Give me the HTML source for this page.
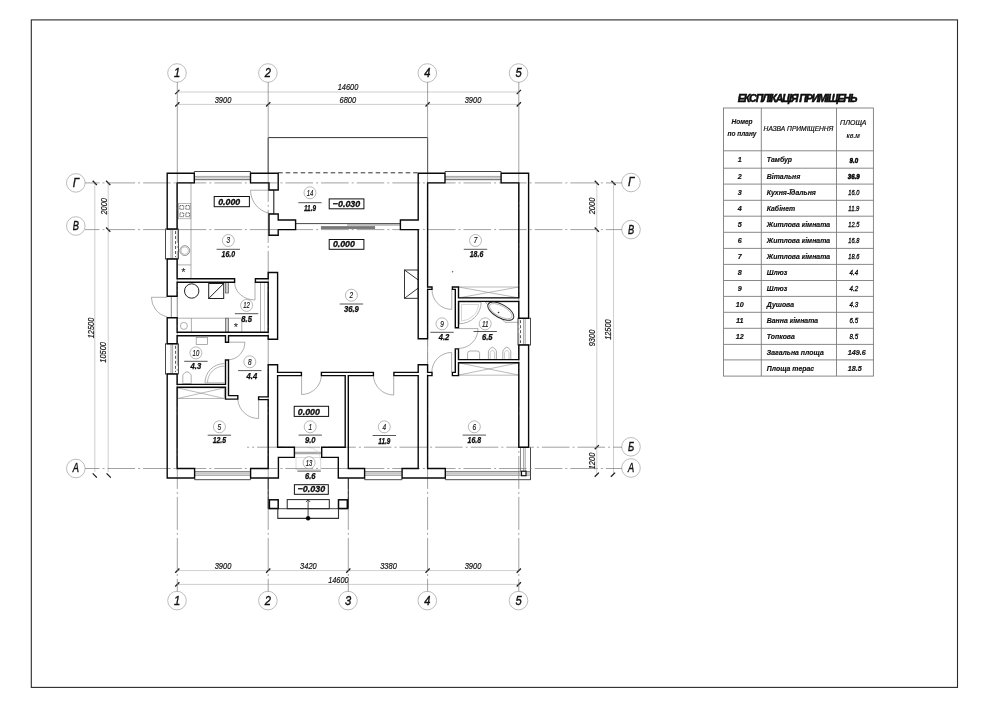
<!DOCTYPE html><html><head><meta charset="utf-8"><title>План</title>
<style>html,body{margin:0;padding:0;background:#fff}svg{display:block;will-change:transform}text{font-family:"Liberation Sans",sans-serif;fill:#111}.g{font-style:italic}.b{font-style:italic;font-weight:bold}</style></head><body>
<svg width="1000" height="707" viewBox="0 0 1000 707">
<rect x="0" y="0" width="1000" height="707" fill="#fff"/>
<rect x="31.3" y="19.9" width="926.2" height="667.5" fill="none" stroke="#2a2a2a" stroke-width="1.1"/>
<line x1="177.3" y1="92.0" x2="518.8" y2="92.0" stroke="#c2c2c2" stroke-width="0.8" />
<line x1="177.3" y1="104.4" x2="518.8" y2="104.4" stroke="#c2c2c2" stroke-width="0.8" />
<line x1="177.3" y1="570.6" x2="518.8" y2="570.6" stroke="#c2c2c2" stroke-width="0.8" />
<line x1="177.3" y1="584.4" x2="518.8" y2="584.4" stroke="#c2c2c2" stroke-width="0.8" />
<line x1="94.8" y1="182.9" x2="94.8" y2="472.0" stroke="#c2c2c2" stroke-width="0.8" />
<line x1="108.2" y1="182.9" x2="108.2" y2="472.0" stroke="#c2c2c2" stroke-width="0.8" />
<line x1="596.8" y1="182.9" x2="596.8" y2="474.7" stroke="#c2c2c2" stroke-width="0.8" />
<line x1="613.5" y1="182.9" x2="613.5" y2="474.7" stroke="#c2c2c2" stroke-width="0.8" />
<line x1="175.2" y1="94.1" x2="179.4" y2="89.9" stroke="#1a1a1a" stroke-width="1.25" />
<line x1="516.7" y1="94.1" x2="520.9" y2="89.9" stroke="#1a1a1a" stroke-width="1.25" />
<line x1="175.2" y1="106.5" x2="179.4" y2="102.3" stroke="#1a1a1a" stroke-width="1.25" />
<line x1="266.1" y1="106.5" x2="270.3" y2="102.3" stroke="#1a1a1a" stroke-width="1.25" />
<line x1="425.5" y1="106.5" x2="429.7" y2="102.3" stroke="#1a1a1a" stroke-width="1.25" />
<line x1="516.7" y1="106.5" x2="520.9" y2="102.3" stroke="#1a1a1a" stroke-width="1.25" />
<line x1="175.2" y1="572.7" x2="179.4" y2="568.5" stroke="#1a1a1a" stroke-width="1.25" />
<line x1="266.1" y1="572.7" x2="270.3" y2="568.5" stroke="#1a1a1a" stroke-width="1.25" />
<line x1="346.2" y1="572.7" x2="350.4" y2="568.5" stroke="#1a1a1a" stroke-width="1.25" />
<line x1="425.5" y1="572.7" x2="429.7" y2="568.5" stroke="#1a1a1a" stroke-width="1.25" />
<line x1="516.7" y1="572.7" x2="520.9" y2="568.5" stroke="#1a1a1a" stroke-width="1.25" />
<line x1="175.2" y1="586.5" x2="179.4" y2="582.3" stroke="#1a1a1a" stroke-width="1.25" />
<line x1="516.7" y1="586.5" x2="520.9" y2="582.3" stroke="#1a1a1a" stroke-width="1.25" />
<line x1="92.7" y1="180.8" x2="96.9" y2="185.0" stroke="#1a1a1a" stroke-width="1.25" />
<line x1="106.1" y1="180.8" x2="110.3" y2="185.0" stroke="#1a1a1a" stroke-width="1.25" />
<line x1="106.1" y1="227.5" x2="110.3" y2="231.7" stroke="#1a1a1a" stroke-width="1.25" />
<line x1="92.7" y1="473.4" x2="96.9" y2="477.6" stroke="#1a1a1a" stroke-width="1.25" />
<line x1="106.6" y1="473.4" x2="110.8" y2="477.6" stroke="#1a1a1a" stroke-width="1.25" />
<line x1="594.7" y1="180.8" x2="598.9" y2="185.0" stroke="#1a1a1a" stroke-width="1.25" />
<line x1="611.4" y1="180.8" x2="615.6" y2="185.0" stroke="#1a1a1a" stroke-width="1.25" />
<line x1="594.7" y1="227.5" x2="598.9" y2="231.7" stroke="#1a1a1a" stroke-width="1.25" />
<line x1="594.7" y1="449.3" x2="598.9" y2="445.1" stroke="#1a1a1a" stroke-width="1.25" />
<line x1="594.7" y1="476.8" x2="598.9" y2="472.6" stroke="#1a1a1a" stroke-width="1.25" />
<line x1="610.9" y1="476.8" x2="615.1" y2="472.6" stroke="#1a1a1a" stroke-width="1.25" />
<circle cx="177.0" cy="73.0" r="9.3" fill="#fff" stroke="#a0a0a0" stroke-width="0.7"/>
<text x="177.0" y="76.9" font-size="13" class="g" text-anchor="middle" textLength="6.2" lengthAdjust="spacingAndGlyphs" stroke="#111" stroke-width="0.4">1</text>
<circle cx="267.9" cy="73.0" r="9.3" fill="#fff" stroke="#a0a0a0" stroke-width="0.7"/>
<text x="267.9" y="76.9" font-size="13" class="g" text-anchor="middle" textLength="6.2" lengthAdjust="spacingAndGlyphs" stroke="#111" stroke-width="0.4">2</text>
<circle cx="427.3" cy="73.0" r="9.3" fill="#fff" stroke="#a0a0a0" stroke-width="0.7"/>
<text x="427.3" y="76.9" font-size="13" class="g" text-anchor="middle" textLength="6.2" lengthAdjust="spacingAndGlyphs" stroke="#111" stroke-width="0.4">4</text>
<circle cx="518.5" cy="73.0" r="9.3" fill="#fff" stroke="#a0a0a0" stroke-width="0.7"/>
<text x="518.5" y="76.9" font-size="13" class="g" text-anchor="middle" textLength="6.2" lengthAdjust="spacingAndGlyphs" stroke="#111" stroke-width="0.4">5</text>
<circle cx="177.0" cy="600.6" r="9.3" fill="#fff" stroke="#a0a0a0" stroke-width="0.7"/>
<text x="177.0" y="604.5" font-size="13" class="g" text-anchor="middle" textLength="6.2" lengthAdjust="spacingAndGlyphs" stroke="#111" stroke-width="0.4">1</text>
<circle cx="267.9" cy="600.6" r="9.3" fill="#fff" stroke="#a0a0a0" stroke-width="0.7"/>
<text x="267.9" y="604.5" font-size="13" class="g" text-anchor="middle" textLength="6.2" lengthAdjust="spacingAndGlyphs" stroke="#111" stroke-width="0.4">2</text>
<circle cx="348.0" cy="600.6" r="9.3" fill="#fff" stroke="#a0a0a0" stroke-width="0.7"/>
<text x="348.0" y="604.5" font-size="13" class="g" text-anchor="middle" textLength="6.2" lengthAdjust="spacingAndGlyphs" stroke="#111" stroke-width="0.4">3</text>
<circle cx="427.3" cy="600.6" r="9.3" fill="#fff" stroke="#a0a0a0" stroke-width="0.7"/>
<text x="427.3" y="604.5" font-size="13" class="g" text-anchor="middle" textLength="6.2" lengthAdjust="spacingAndGlyphs" stroke="#111" stroke-width="0.4">4</text>
<circle cx="518.5" cy="600.6" r="9.3" fill="#fff" stroke="#a0a0a0" stroke-width="0.7"/>
<text x="518.5" y="604.5" font-size="13" class="g" text-anchor="middle" textLength="6.2" lengthAdjust="spacingAndGlyphs" stroke="#111" stroke-width="0.4">5</text>
<circle cx="75.8" cy="182.9" r="9.3" fill="#fff" stroke="#a0a0a0" stroke-width="0.7"/>
<text x="75.8" y="186.8" font-size="13" class="g" text-anchor="middle" textLength="6.2" lengthAdjust="spacingAndGlyphs" stroke="#111" stroke-width="0.4">Г</text>
<circle cx="75.8" cy="226.0" r="9.3" fill="#fff" stroke="#a0a0a0" stroke-width="0.7"/>
<text x="75.8" y="229.9" font-size="13" class="g" text-anchor="middle" textLength="6.2" lengthAdjust="spacingAndGlyphs" stroke="#111" stroke-width="0.4">В</text>
<circle cx="75.8" cy="468.5" r="9.3" fill="#fff" stroke="#a0a0a0" stroke-width="0.7"/>
<text x="75.8" y="472.4" font-size="13" class="g" text-anchor="middle" textLength="6.2" lengthAdjust="spacingAndGlyphs" stroke="#111" stroke-width="0.4">А</text>
<circle cx="631.0" cy="182.5" r="9.3" fill="#fff" stroke="#a0a0a0" stroke-width="0.7"/>
<text x="631.0" y="186.4" font-size="13" class="g" text-anchor="middle" textLength="6.2" lengthAdjust="spacingAndGlyphs" stroke="#111" stroke-width="0.4">Г</text>
<circle cx="631.0" cy="229.6" r="9.3" fill="#fff" stroke="#a0a0a0" stroke-width="0.7"/>
<text x="631.0" y="233.5" font-size="13" class="g" text-anchor="middle" textLength="6.2" lengthAdjust="spacingAndGlyphs" stroke="#111" stroke-width="0.4">В</text>
<circle cx="631.0" cy="446.8" r="9.3" fill="#fff" stroke="#a0a0a0" stroke-width="0.7"/>
<text x="631.0" y="450.7" font-size="13" class="g" text-anchor="middle" textLength="6.2" lengthAdjust="spacingAndGlyphs" stroke="#111" stroke-width="0.4">Б</text>
<circle cx="631.0" cy="468.0" r="9.3" fill="#fff" stroke="#a0a0a0" stroke-width="0.7"/>
<text x="631.0" y="471.9" font-size="13" class="g" text-anchor="middle" textLength="6.2" lengthAdjust="spacingAndGlyphs" stroke="#111" stroke-width="0.4">А</text>
<text x="223.0" y="103.0" font-size="8.3" class="g" text-anchor="middle" stroke="#111" stroke-width="0.18" textLength="16.6" lengthAdjust="spacingAndGlyphs">3900</text>
<text x="347.8" y="103.0" font-size="8.3" class="g" text-anchor="middle" stroke="#111" stroke-width="0.18" textLength="16.6" lengthAdjust="spacingAndGlyphs">6800</text>
<text x="473.0" y="103.0" font-size="8.3" class="g" text-anchor="middle" stroke="#111" stroke-width="0.18" textLength="16.6" lengthAdjust="spacingAndGlyphs">3900</text>
<text x="348.0" y="90.0" font-size="8.3" class="g" text-anchor="middle" stroke="#111" stroke-width="0.18" textLength="20.5" lengthAdjust="spacingAndGlyphs">14600</text>
<text x="223.0" y="569.0" font-size="8.3" class="g" text-anchor="middle" stroke="#111" stroke-width="0.18" textLength="16.6" lengthAdjust="spacingAndGlyphs">3900</text>
<text x="308.4" y="569.0" font-size="8.3" class="g" text-anchor="middle" stroke="#111" stroke-width="0.18" textLength="16.6" lengthAdjust="spacingAndGlyphs">3420</text>
<text x="388.5" y="569.0" font-size="8.3" class="g" text-anchor="middle" stroke="#111" stroke-width="0.18" textLength="16.6" lengthAdjust="spacingAndGlyphs">3380</text>
<text x="473.0" y="569.0" font-size="8.3" class="g" text-anchor="middle" stroke="#111" stroke-width="0.18" textLength="16.6" lengthAdjust="spacingAndGlyphs">3900</text>
<text x="338.4" y="582.5" font-size="8.3" class="g" text-anchor="middle" stroke="#111" stroke-width="0.18" textLength="20.5" lengthAdjust="spacingAndGlyphs">14600</text>
<text x="107.5" y="206.3" font-size="8.3" class="g" text-anchor="middle" stroke="#111" stroke-width="0.18" textLength="16.6" lengthAdjust="spacingAndGlyphs" transform="rotate(-90 107.5 206.3)">2000</text>
<text x="93.5" y="328.0" font-size="8.3" class="g" text-anchor="middle" stroke="#111" stroke-width="0.18" textLength="20.5" lengthAdjust="spacingAndGlyphs" transform="rotate(-90 93.5 328.0)">12500</text>
<text x="106.5" y="352.4" font-size="8.3" class="g" text-anchor="middle" stroke="#111" stroke-width="0.18" textLength="20.5" lengthAdjust="spacingAndGlyphs" transform="rotate(-90 106.5 352.4)">10500</text>
<text x="595.3" y="206.0" font-size="8.3" class="g" text-anchor="middle" stroke="#111" stroke-width="0.18" textLength="16.6" lengthAdjust="spacingAndGlyphs" transform="rotate(-90 595.3 206.0)">2000</text>
<text x="594.5" y="338.0" font-size="8.3" class="g" text-anchor="middle" stroke="#111" stroke-width="0.18" textLength="16.6" lengthAdjust="spacingAndGlyphs" transform="rotate(-90 594.5 338.0)">9300</text>
<text x="611.5" y="329.6" font-size="8.3" class="g" text-anchor="middle" stroke="#111" stroke-width="0.18" textLength="20.5" lengthAdjust="spacingAndGlyphs" transform="rotate(-90 611.5 329.6)">12500</text>
<text x="594.5" y="461.0" font-size="8.3" class="g" text-anchor="middle" stroke="#111" stroke-width="0.18" textLength="16.6" lengthAdjust="spacingAndGlyphs" transform="rotate(-90 594.5 461.0)">1200</text>
<polyline points="268.2,173.0 268.2,137.6 427.6,137.6 427.6,173.0" fill="none" stroke="#333" stroke-width="1"/>
<line x1="278.2" y1="172.8" x2="417.5" y2="172.8" stroke="#333" stroke-width="1" stroke-dasharray="4.5 3"/>
<line x1="191.0" y1="183.0" x2="191.0" y2="278.7" stroke="#8c8c8c" stroke-width="0.7" />
<line x1="177.1" y1="264.9" x2="191.0" y2="264.9" stroke="#8c8c8c" stroke-width="0.7" />
<rect x="178.6" y="203.4" width="12.2" height="15.4" fill="none" stroke="#8c8c8c" stroke-width="0.6"/>
<rect x="179.9" y="205.5" width="3.8" height="3.8" fill="none" stroke="#444" stroke-width="0.8" stroke-dasharray="1.3 0.6"/>
<rect x="179.9" y="212.9" width="3.8" height="3.8" fill="none" stroke="#444" stroke-width="0.8" stroke-dasharray="1.3 0.6"/>
<rect x="185.8" y="205.5" width="3.8" height="3.8" fill="none" stroke="#444" stroke-width="0.8" stroke-dasharray="1.3 0.6"/>
<rect x="185.8" y="212.9" width="3.8" height="3.8" fill="none" stroke="#444" stroke-width="0.8" stroke-dasharray="1.3 0.6"/>
<circle cx="184.8" cy="250.6" r="4.9" fill="none" stroke="#666" stroke-width="0.7"/>
<circle cx="184.8" cy="250.6" r="3.7" fill="none" stroke="#8c8c8c" stroke-width="0.5"/>
<text x="183.0" y="276.0" font-size="11" class="g" text-anchor="middle" fill="#333">*</text>
<line x1="250.5" y1="190.2" x2="274.2" y2="190.2" stroke="#8c8c8c" stroke-width="0.7" />
<path d="M250.5 190.2 A23.7 23.7 0 0 0 274.2 213.8" fill="none" stroke="#8c8c8c" stroke-width="0.7"/>
<line x1="273.8" y1="190.0" x2="273.8" y2="214.0" stroke="#222" stroke-width="1.1" />
<circle cx="191.7" cy="291.0" r="7.2" fill="none" stroke="#222" stroke-width="1.0"/>
<rect x="208.7" y="283.5" width="15.0" height="15.0" fill="none" stroke="#222" stroke-width="1.0"/>
<line x1="208.7" y1="298.5" x2="223.7" y2="283.5" stroke="#222" stroke-width="1.0" />
<rect x="225.5" y="282.2" width="3.0" height="10.8" fill="#ccc" stroke="#555" stroke-width="0.7"/>
<rect x="225.5" y="318.2" width="3.0" height="14.1" fill="#ccc" stroke="#555" stroke-width="0.7"/>
<line x1="177.1" y1="318.2" x2="241.8" y2="318.2" stroke="#8c8c8c" stroke-width="0.7" />
<line x1="191.4" y1="318.2" x2="191.4" y2="332.3" stroke="#8c8c8c" stroke-width="0.7" />
<line x1="241.8" y1="318.2" x2="241.8" y2="332.3" stroke="#8c8c8c" stroke-width="0.7" />
<circle cx="183.9" cy="325.9" r="3.5" fill="none" stroke="#8c8c8c" stroke-width="0.7"/>
<text x="235.4" y="330.5" font-size="11" class="g" text-anchor="middle" fill="#333">*</text>
<line x1="260.5" y1="282.2" x2="260.5" y2="332.3" stroke="#8c8c8c" stroke-width="0.7" />
<line x1="264.5" y1="282.2" x2="264.5" y2="332.3" stroke="#bbb" stroke-width="0.6" />
<line x1="255.0" y1="282.2" x2="255.0" y2="300.0" stroke="#8c8c8c" stroke-width="0.7" />
<path d="M234.6 282.2 A20.4 17.8 0 0 0 255 300" fill="none" stroke="#8c8c8c" stroke-width="0.7"/>
<line x1="151.4" y1="297.3" x2="167.2" y2="297.3" stroke="#8c8c8c" stroke-width="0.7" />
<path d="M151.4 297.3 A19.9 19.9 0 0 0 167.2 316.8" fill="none" stroke="#8c8c8c" stroke-width="0.7"/>
<line x1="171.3" y1="296.3" x2="171.3" y2="317.7" stroke="#6a6a6a" stroke-width="0.8" />
<line x1="177.1" y1="296.3" x2="177.3" y2="317.7" stroke="#bbb" stroke-width="0.6" />
<rect x="196.2" y="337.4" width="11.2" height="7.2" fill="none" stroke="#8c8c8c" stroke-width="0.7"/>
<line x1="225.5" y1="342.2" x2="245.0" y2="342.2" stroke="#8c8c8c" stroke-width="0.7" />
<path d="M245 342.2 A17.5 17.5 0 0 1 228.5 359.8" fill="none" stroke="#8c8c8c" stroke-width="0.7"/>
<path d="M205 382.8 A19.2 19.2 0 0 1 224.2 363.6" fill="none" stroke="#8c8c8c" stroke-width="0.7"/>
<path d="M207.5 382.8 A16.7 16.7 0 0 1 224.2 366.1" fill="none" stroke="#8c8c8c" stroke-width="0.6"/>
<line x1="205.0" y1="382.8" x2="224.2" y2="382.8" stroke="#8c8c8c" stroke-width="0.6" />
<path d="M182.8 383.6 L182.8 375 Q187 368.5 191.2 375 L191.2 383.6 Z" fill="none" stroke="#8c8c8c" stroke-width="0.7"/>
<rect x="177.8" y="387.9" width="46.4" height="10.6" fill="none" stroke="#8c8c8c" stroke-width="0.6"/>
<line x1="177.8" y1="387.9" x2="224.2" y2="398.5" stroke="#8c8c8c" stroke-width="0.6" />
<line x1="177.8" y1="398.5" x2="224.2" y2="387.9" stroke="#8c8c8c" stroke-width="0.6" />
<line x1="258.6" y1="399.6" x2="258.6" y2="418.5" stroke="#8c8c8c" stroke-width="0.7" />
<path d="M237.8 399.6 A20.8 20.8 0 0 0 258.6 418.5" fill="none" stroke="#8c8c8c" stroke-width="0.7"/>
<line x1="301.6" y1="375.6" x2="301.6" y2="394.5" stroke="#8c8c8c" stroke-width="0.7" />
<path d="M301.6 394.5 A19.8 19.8 0 0 0 321.4 375.6" fill="none" stroke="#8c8c8c" stroke-width="0.7"/>
<line x1="393.7" y1="375.6" x2="393.7" y2="395.0" stroke="#8c8c8c" stroke-width="0.7" />
<path d="M373.4 375.6 A20.3 20.3 0 0 0 393.7 395" fill="none" stroke="#8c8c8c" stroke-width="0.7"/>
<line x1="294.4" y1="452.3" x2="321.7" y2="452.3" stroke="#666" stroke-width="0.7" />
<line x1="294.4" y1="453.7" x2="321.7" y2="453.7" stroke="#666" stroke-width="0.7" />
<rect x="296.0" y="457.4" width="24.8" height="12.1" fill="none" stroke="#c4c4c4" stroke-width="0.6"/>
<path d="M308 447.5 A12 12 0 0 1 320.5 460" fill="none" stroke=" #ccc" stroke-width="0.6"/>
<rect x="404.5" y="270.0" width="13.8" height="28.3" fill="none" stroke="#222" stroke-width="0.9"/>
<line x1="404.5" y1="270.0" x2="418.3" y2="280.0" stroke="#222" stroke-width="0.9" />
<line x1="404.5" y1="298.3" x2="418.3" y2="288.0" stroke="#222" stroke-width="0.9" />
<line x1="451.8" y1="289.4" x2="451.8" y2="309.4" stroke="#8c8c8c" stroke-width="0.7" />
<path d="M432 289.4 A19.8 19.8 0 0 0 451.8 309.4" fill="none" stroke="#8c8c8c" stroke-width="0.7"/>
<rect x="458.5" y="287.0" width="60.3" height="10.9" fill="none" stroke="#8c8c8c" stroke-width="0.6"/>
<line x1="458.5" y1="287.0" x2="518.8" y2="297.9" stroke="#8c8c8c" stroke-width="0.6" />
<line x1="458.5" y1="297.9" x2="518.8" y2="287.0" stroke="#8c8c8c" stroke-width="0.6" />
<rect x="458.5" y="362.8" width="60.3" height="12.3" fill="none" stroke="#8c8c8c" stroke-width="0.6"/>
<line x1="458.5" y1="362.8" x2="518.8" y2="375.1" stroke="#8c8c8c" stroke-width="0.6" />
<line x1="458.5" y1="375.1" x2="518.8" y2="362.8" stroke="#8c8c8c" stroke-width="0.6" />
<path d="M459.1 302.2 L481.2 302.2 A22 22 0 0 1 459.1 323.8 Z" fill="none" stroke="#8c8c8c" stroke-width="0.7"/>
<path d="M461.5 304.5 L478.5 304.5 A18 18 0 0 1 461.5 321 Z" fill="none" stroke="#bbb" stroke-width="0.6"/>
<path d="M485.2 302 L518.6 302 L518.6 322.3 L505 322.3 Z" fill="none" stroke="#8c8c8c" stroke-width="0.7"/>
<ellipse cx="500.8" cy="311.2" rx="14.4" ry="6.7" transform="rotate(29 500.8 311.2)" fill="#fff" stroke="#2a2a2a" stroke-width="1"/>
<ellipse cx="500.8" cy="311.2" rx="12.6" ry="5.2" transform="rotate(29 500.8 311.2)" fill="none" stroke="#999" stroke-width="0.6"/>
<circle cx="498.5" cy="312.5" r="0.6" fill="#222" stroke="#222" stroke-width="0.4"/>
<circle cx="452.6" cy="271.7" r="0.5" fill="#333" stroke="#333" stroke-width="0.3"/>
<line x1="458.8" y1="328.6" x2="478.0" y2="328.6" stroke="#8c8c8c" stroke-width="0.7" />
<path d="M478 328.6 A19.5 19.5 0 0 1 458.8 348.4" fill="none" stroke="#8c8c8c" stroke-width="0.7"/>
<line x1="451.6" y1="352.4" x2="451.6" y2="372.4" stroke="#8c8c8c" stroke-width="0.7" />
<path d="M451.6 352.4 A20 20 0 0 0 431.8 372.4" fill="none" stroke="#8c8c8c" stroke-width="0.7"/>
<path d="M467.6 359 L467.6 353.5 Q467.6 351 470 351 L477.2 351 Q479.6 351 479.6 353.5 L479.6 359" fill="none" stroke="#8c8c8c" stroke-width="0.7"/>
<path d="M488.4 359 L488.4 351 Q492.4 343.5 496.4 351 L496.4 359" fill="none" stroke="#8c8c8c" stroke-width="0.7"/>
<path d="M490.2 359 L490.2 352.5 Q492.4 348 494.59999999999997 352.5 L494.59999999999997 359" fill="none" stroke="#aaa" stroke-width="0.6"/>
<path d="M502.8 359 L502.8 351 Q506.8 343.5 510.8 351 L510.8 359" fill="none" stroke="#8c8c8c" stroke-width="0.7"/>
<path d="M504.6 359 L504.6 352.5 Q506.8 348 509.0 352.5 L509.0 359" fill="none" stroke="#aaa" stroke-width="0.6"/>
<line x1="295.6" y1="223.6" x2="400.4" y2="223.6" stroke="#333" stroke-width="0.9" />
<line x1="347.0" y1="225.0" x2="400.4" y2="225.0" stroke="#555" stroke-width="0.7" />
<rect x="321.2" y="226.4" width="53.6" height="2.4" fill="#777" stroke="#666" stroke-width="0.5"/>
<line x1="427.6" y1="338.7" x2="427.6" y2="364.8" stroke="#aaa" stroke-width="0.6" stroke-dasharray="8 2 1 2"/>
<line x1="194.3" y1="171.5" x2="250.5" y2="171.5" stroke="#333" stroke-width="0.9" />
<line x1="194.3" y1="179.7" x2="250.5" y2="179.7" stroke="#333" stroke-width="0.8" />
<line x1="194.3" y1="176.4" x2="250.5" y2="176.4" stroke="#666" stroke-width="0.6" />
<line x1="194.3" y1="177.9" x2="250.5" y2="177.9" stroke="#666" stroke-width="0.6" />
<line x1="194.3" y1="171.5" x2="194.3" y2="173.0" stroke="#333" stroke-width="0.8" />
<line x1="250.5" y1="171.5" x2="250.5" y2="173.0" stroke="#333" stroke-width="0.8" />
<line x1="445.0" y1="171.5" x2="501.1" y2="171.5" stroke="#333" stroke-width="0.9" />
<line x1="445.0" y1="179.7" x2="501.1" y2="179.7" stroke="#333" stroke-width="0.8" />
<line x1="445.0" y1="176.4" x2="501.1" y2="176.4" stroke="#666" stroke-width="0.6" />
<line x1="445.0" y1="177.9" x2="501.1" y2="177.9" stroke="#666" stroke-width="0.6" />
<line x1="445.0" y1="171.5" x2="445.0" y2="173.0" stroke="#333" stroke-width="0.8" />
<line x1="501.1" y1="171.5" x2="501.1" y2="173.0" stroke="#333" stroke-width="0.8" />
<line x1="194.6" y1="479.7" x2="250.6" y2="479.7" stroke="#333" stroke-width="0.9" />
<line x1="194.6" y1="471.8" x2="250.6" y2="471.8" stroke="#333" stroke-width="0.8" />
<line x1="194.6" y1="475.4" x2="250.6" y2="475.4" stroke="#666" stroke-width="0.6" />
<line x1="194.6" y1="473.9" x2="250.6" y2="473.9" stroke="#666" stroke-width="0.6" />
<line x1="194.6" y1="479.7" x2="194.6" y2="478.0" stroke="#333" stroke-width="0.8" />
<line x1="250.6" y1="479.7" x2="250.6" y2="478.0" stroke="#333" stroke-width="0.8" />
<line x1="364.6" y1="479.7" x2="402.1" y2="479.7" stroke="#333" stroke-width="0.9" />
<line x1="364.6" y1="471.8" x2="402.1" y2="471.8" stroke="#333" stroke-width="0.8" />
<line x1="364.6" y1="475.4" x2="402.1" y2="475.4" stroke="#666" stroke-width="0.6" />
<line x1="364.6" y1="473.9" x2="402.1" y2="473.9" stroke="#666" stroke-width="0.6" />
<line x1="364.6" y1="479.7" x2="364.6" y2="478.0" stroke="#333" stroke-width="0.8" />
<line x1="402.1" y1="479.7" x2="402.1" y2="478.0" stroke="#333" stroke-width="0.8" />
<line x1="445.3" y1="479.7" x2="530.5" y2="479.7" stroke="#333" stroke-width="0.9" />
<line x1="445.3" y1="471.8" x2="530.5" y2="471.8" stroke="#333" stroke-width="0.8" />
<line x1="445.3" y1="475.4" x2="530.5" y2="475.4" stroke="#666" stroke-width="0.6" />
<line x1="445.3" y1="473.9" x2="530.5" y2="473.9" stroke="#666" stroke-width="0.6" />
<line x1="445.3" y1="479.7" x2="445.3" y2="478.0" stroke="#333" stroke-width="0.8" />
<line x1="530.5" y1="479.7" x2="530.5" y2="478.0" stroke="#333" stroke-width="0.8" />
<rect x="165.5" y="229.0" width="12.9" height="30.0" fill="#fff" stroke="#333" stroke-width="0.9"/>
<line x1="171.0" y1="229.0" x2="171.0" y2="259.0" stroke="#666" stroke-width="0.6" />
<line x1="172.6" y1="229.0" x2="172.6" y2="259.0" stroke="#666" stroke-width="0.6" />
<line x1="175.5" y1="231.0" x2="175.5" y2="257.0" stroke="#333" stroke-width="0.8" stroke-dasharray="3 2"/>
<rect x="165.5" y="343.8" width="12.9" height="30.2" fill="#fff" stroke="#333" stroke-width="0.9"/>
<line x1="171.0" y1="343.8" x2="171.0" y2="374.0" stroke="#666" stroke-width="0.6" />
<line x1="172.6" y1="343.8" x2="172.6" y2="374.0" stroke="#666" stroke-width="0.6" />
<line x1="175.5" y1="345.8" x2="175.5" y2="372.0" stroke="#333" stroke-width="0.8" stroke-dasharray="3 2"/>
<rect x="518.0" y="318.2" width="12.5" height="26.8" fill="#fff" stroke="#333" stroke-width="0.9"/>
<line x1="525.2" y1="318.2" x2="525.2" y2="345.0" stroke="#666" stroke-width="0.6" />
<line x1="523.6" y1="318.2" x2="523.6" y2="345.0" stroke="#666" stroke-width="0.6" />
<line x1="520.5" y1="320.2" x2="520.5" y2="343.0" stroke="#333" stroke-width="0.8" stroke-dasharray="3 2"/>
<line x1="530.5" y1="447.2" x2="530.5" y2="479.7" stroke="#333" stroke-width="0.9" />
<line x1="523.6" y1="447.2" x2="523.6" y2="471.0" stroke="#666" stroke-width="0.6" />
<line x1="525.2" y1="447.2" x2="525.2" y2="471.0" stroke="#666" stroke-width="0.6" />
<line x1="520.5" y1="447.2" x2="520.5" y2="471.8" stroke="#555" stroke-width="0.7" />
<rect x="521.5" y="471.2" width="4.5" height="4.5" fill="#fff" stroke="#111" stroke-width="1.2"/>
<path d="M278.2 190.0 L278.2 173.2 L250.5 173.2 L250.5 182.9 L269.0 182.9 L269.0 190.0Z M194.3 182.9 L194.3 173.2 L167.2 173.2 L167.2 229.0 L177.1 229.0 L177.1 182.9Z M234.6 282.2 L234.6 278.7 L177.1 278.7 L177.1 259.0 L167.2 259.0 L167.2 296.3 L177.1 296.3 L177.1 282.2Z M268.2 282.2 L268.2 332.3 L177.1 332.3 L177.1 317.7 L167.2 317.7 L167.2 343.8 L177.1 343.8 L177.1 335.8 L225.5 335.8 L225.5 342.2 L228.5 342.2 L228.5 335.8 L268.2 335.8 L268.2 339.3 L277.6 339.3 L277.6 272.5 L268.2 272.5 L268.2 278.7 L255.4 278.7 L255.4 282.2Z M225.5 387.3 L225.5 399.1 L237.8 399.1 L237.8 395.6 L228.5 395.6 L228.5 360.0 L225.5 360.0 L225.5 384.4 L177.1 384.4 L177.1 374.0 L167.2 374.0 L167.2 478.0 L194.6 478.0 L194.6 468.5 L177.1 468.5 L177.1 387.3Z M268.2 399.6 L268.2 468.5 L250.6 468.5 L250.6 478.0 L278.4 478.0 L278.4 457.4 L294.4 457.4 L294.4 447.2 L277.6 447.2 L277.6 375.6 L301.4 375.6 L301.4 372.4 L277.6 372.4 L277.6 364.8 L268.2 364.8 L268.2 396.9 L258.6 396.9 L258.6 399.6Z M295.6 229.6 L295.6 220.0 L278.2 220.0 L278.2 214.0 L269.0 214.0 L269.0 235.2 L278.2 235.2 L278.2 229.6Z M458.5 297.9 L458.5 287.0 L452.4 287.0 L452.4 289.4 L455.3 289.4 L455.3 327.8 L458.5 327.8 L458.5 301.4 L518.8 301.4 L518.8 318.2 L528.6 318.2 L528.6 173.2 L501.1 173.2 L501.1 182.9 L518.8 182.9 L518.8 297.9Z M418.2 229.6 L418.2 338.8 L427.6 338.8 L427.6 289.4 L432.0 289.4 L432.0 287.0 L427.6 287.0 L427.6 182.9 L445.0 182.9 L445.0 173.2 L418.2 173.2 L418.2 220.0 L400.4 220.0 L400.4 229.6Z M458.5 375.6 L458.5 362.8 L518.8 362.8 L518.8 447.2 L528.6 447.2 L528.6 345.0 L518.8 345.0 L518.8 359.6 L458.5 359.6 L458.5 348.9 L455.3 348.9 L455.3 372.4 L452.4 372.4 L452.4 375.6Z M427.6 375.6 L432.0 375.6 L432.0 372.4 L427.6 372.4 L427.6 364.8 L418.2 364.8 L418.2 372.4 L393.9 372.4 L393.9 375.6 L418.2 375.6 L418.2 468.5 L402.1 468.5 L402.1 478.0 L445.3 478.0 L445.3 468.5 L427.6 468.5Z M364.6 468.5 L348.3 468.5 L348.3 375.6 L373.4 375.6 L373.4 372.4 L321.4 372.4 L321.4 375.6 L345.2 375.6 L345.2 447.2 L321.7 447.2 L321.7 457.4 L338.3 457.4 L338.3 478.0 L364.6 478.0Z " fill="#fff" stroke="none" fill-rule="evenodd"/>
<line x1="177.3" y1="82.0" x2="177.3" y2="173.0" stroke="#7a7a7a" stroke-width="0.7" />
<line x1="177.3" y1="173.0" x2="177.3" y2="591.5" stroke="#7a7a7a" stroke-width="0.7" stroke-dasharray="33 3 2 3" stroke-dashoffset="4.1"/>
<line x1="268.2" y1="82.0" x2="268.2" y2="173.0" stroke="#7a7a7a" stroke-width="0.7" />
<line x1="268.2" y1="173.0" x2="268.2" y2="591.5" stroke="#7a7a7a" stroke-width="0.7" stroke-dasharray="33 3 2 3" stroke-dashoffset="4.1"/>
<line x1="427.6" y1="82.0" x2="427.6" y2="173.0" stroke="#7a7a7a" stroke-width="0.7" />
<line x1="427.6" y1="173.0" x2="427.6" y2="591.5" stroke="#7a7a7a" stroke-width="0.7" stroke-dasharray="33 3 2 3" stroke-dashoffset="4.1"/>
<line x1="518.8" y1="82.0" x2="518.8" y2="173.0" stroke="#7a7a7a" stroke-width="0.7" />
<line x1="518.8" y1="173.0" x2="518.8" y2="591.5" stroke="#7a7a7a" stroke-width="0.7" stroke-dasharray="33 3 2 3" stroke-dashoffset="4.1"/>
<line x1="348.3" y1="478.0" x2="348.3" y2="591.5" stroke="#7a7a7a" stroke-width="0.7" stroke-dasharray="33 3 2 3" stroke-dashoffset="22.1"/>
<line x1="85.0" y1="182.9" x2="622.0" y2="182.9" stroke="#7a7a7a" stroke-width="0.7" stroke-dasharray="27.6 3 2 3" stroke-dashoffset="13.1"/>
<line x1="85.0" y1="229.6" x2="622.0" y2="229.6" stroke="#7a7a7a" stroke-width="0.7" stroke-dasharray="27.6 3 2 3" stroke-dashoffset="13.1"/>
<line x1="247.0" y1="447.2" x2="622.0" y2="447.2" stroke="#7a7a7a" stroke-width="0.7" stroke-dasharray="27.6 3 2 3" stroke-dashoffset="25.5"/>
<line x1="85.0" y1="468.5" x2="622.0" y2="468.5" stroke="#7a7a7a" stroke-width="0.7" stroke-dasharray="27.6 3 2 3" stroke-dashoffset="13.1"/>
<path d="M278.2 190.0 L278.2 173.2 L250.5 173.2 L250.5 182.9 L269.0 182.9 L269.0 190.0Z M194.3 182.9 L194.3 173.2 L167.2 173.2 L167.2 229.0 L177.1 229.0 L177.1 182.9Z M234.6 282.2 L234.6 278.7 L177.1 278.7 L177.1 259.0 L167.2 259.0 L167.2 296.3 L177.1 296.3 L177.1 282.2Z M268.2 282.2 L268.2 332.3 L177.1 332.3 L177.1 317.7 L167.2 317.7 L167.2 343.8 L177.1 343.8 L177.1 335.8 L225.5 335.8 L225.5 342.2 L228.5 342.2 L228.5 335.8 L268.2 335.8 L268.2 339.3 L277.6 339.3 L277.6 272.5 L268.2 272.5 L268.2 278.7 L255.4 278.7 L255.4 282.2Z M225.5 387.3 L225.5 399.1 L237.8 399.1 L237.8 395.6 L228.5 395.6 L228.5 360.0 L225.5 360.0 L225.5 384.4 L177.1 384.4 L177.1 374.0 L167.2 374.0 L167.2 478.0 L194.6 478.0 L194.6 468.5 L177.1 468.5 L177.1 387.3Z M268.2 399.6 L268.2 468.5 L250.6 468.5 L250.6 478.0 L278.4 478.0 L278.4 457.4 L294.4 457.4 L294.4 447.2 L277.6 447.2 L277.6 375.6 L301.4 375.6 L301.4 372.4 L277.6 372.4 L277.6 364.8 L268.2 364.8 L268.2 396.9 L258.6 396.9 L258.6 399.6Z M295.6 229.6 L295.6 220.0 L278.2 220.0 L278.2 214.0 L269.0 214.0 L269.0 235.2 L278.2 235.2 L278.2 229.6Z M458.5 297.9 L458.5 287.0 L452.4 287.0 L452.4 289.4 L455.3 289.4 L455.3 327.8 L458.5 327.8 L458.5 301.4 L518.8 301.4 L518.8 318.2 L528.6 318.2 L528.6 173.2 L501.1 173.2 L501.1 182.9 L518.8 182.9 L518.8 297.9Z M418.2 229.6 L418.2 338.8 L427.6 338.8 L427.6 289.4 L432.0 289.4 L432.0 287.0 L427.6 287.0 L427.6 182.9 L445.0 182.9 L445.0 173.2 L418.2 173.2 L418.2 220.0 L400.4 220.0 L400.4 229.6Z M458.5 375.6 L458.5 362.8 L518.8 362.8 L518.8 447.2 L528.6 447.2 L528.6 345.0 L518.8 345.0 L518.8 359.6 L458.5 359.6 L458.5 348.9 L455.3 348.9 L455.3 372.4 L452.4 372.4 L452.4 375.6Z M427.6 375.6 L432.0 375.6 L432.0 372.4 L427.6 372.4 L427.6 364.8 L418.2 364.8 L418.2 372.4 L393.9 372.4 L393.9 375.6 L418.2 375.6 L418.2 468.5 L402.1 468.5 L402.1 478.0 L445.3 478.0 L445.3 468.5 L427.6 468.5Z M364.6 468.5 L348.3 468.5 L348.3 375.6 L373.4 375.6 L373.4 372.4 L321.4 372.4 L321.4 375.6 L345.2 375.6 L345.2 447.2 L321.7 447.2 L321.7 457.4 L338.3 457.4 L338.3 478.0 L364.6 478.0Z " fill="none" stroke="#0a0a0a" stroke-width="1.4" stroke-linejoin="miter"/>
<line x1="268.2" y1="478.0" x2="268.2" y2="508.7" stroke="#222" stroke-width="1.0" />
<line x1="348.3" y1="478.0" x2="348.3" y2="508.7" stroke="#222" stroke-width="1.0" />
<line x1="268.2" y1="508.7" x2="348.3" y2="508.7" stroke="#444" stroke-width="1.0" />
<rect x="269.4" y="499.8" width="8.8" height="8.7" fill="#fff" stroke="#0a0a0a" stroke-width="1.5"/>
<rect x="338.5" y="499.8" width="8.8" height="8.7" fill="#fff" stroke="#0a0a0a" stroke-width="1.5"/>
<rect x="287.2" y="499.6" width="42.1" height="9.1" fill="none" stroke="#222" stroke-width="1.0"/>
<polyline points="277.8,508.7 277.8,518.4 338.5,518.4 338.5,508.7" fill="none" stroke="#333" stroke-width="1.1"/>
<line x1="308.1" y1="499.6" x2="308.1" y2="518.4" stroke="#333" stroke-width="0.9" />
<path d="M306 502 L308.1 499.8 L310.2 502" fill="none" stroke="#222" stroke-width="0.8"/>
<circle cx="308.1" cy="518.3" r="2.0" fill="#000" stroke="#000" stroke-width="0.5"/>
<rect x="214.2" y="196.5" width="35.2" height="10.2" fill="#fff" stroke="#111" stroke-width="1.0"/>
<text x="229.2" y="204.8" font-size="9.4" class="b" text-anchor="middle" textLength="22" lengthAdjust="spacingAndGlyphs" fill="#000" stroke="#000" stroke-width="0.3">0.000</text>
<rect x="329.2" y="198.9" width="34.7" height="9.9" fill="#fff" stroke="#111" stroke-width="1.0"/>
<text x="346.5" y="206.9" font-size="9.4" class="b" text-anchor="middle" textLength="27.5" lengthAdjust="spacingAndGlyphs" fill="#000" stroke="#000" stroke-width="0.3">−0.030</text>
<rect x="329.2" y="239.5" width="34.7" height="9.8" fill="#fff" stroke="#111" stroke-width="1.0"/>
<text x="343.9" y="247.4" font-size="9.4" class="b" text-anchor="middle" textLength="22" lengthAdjust="spacingAndGlyphs" fill="#000" stroke="#000" stroke-width="0.3">0.000</text>
<rect x="294.2" y="406.3" width="34.4" height="10.1" fill="#fff" stroke="#111" stroke-width="1.0"/>
<text x="308.8" y="414.5" font-size="9.4" class="b" text-anchor="middle" textLength="22" lengthAdjust="spacingAndGlyphs" fill="#000" stroke="#000" stroke-width="0.3">0.000</text>
<rect x="294.4" y="484.7" width="33.9" height="9.6" fill="#fff" stroke="#111" stroke-width="1.0"/>
<text x="311.4" y="492.4" font-size="9.4" class="b" text-anchor="middle" textLength="27.5" lengthAdjust="spacingAndGlyphs" fill="#000" stroke="#000" stroke-width="0.3">−0.030</text>
<circle cx="228.3" cy="240.5" r="6" fill="#fff" stroke="#8a8a8a" stroke-width="0.6"/>
<text x="228.3" y="243.4" font-size="8.2" class="g" text-anchor="middle" stroke="#111" stroke-width="0.15" textLength="3.6" lengthAdjust="spacingAndGlyphs">3</text>
<line x1="216.6" y1="249.3" x2="240.0" y2="249.3" stroke="#444" stroke-width="0.9" />
<text x="228.3" y="257.4" font-size="8.4" class="b" text-anchor="middle" textLength="13.5" lengthAdjust="spacingAndGlyphs" fill="#000" stroke="#000" stroke-width="0.25">16.0</text>
<circle cx="310.0" cy="192.8" r="6" fill="#fff" stroke="#8a8a8a" stroke-width="0.6"/>
<text x="310.0" y="195.7" font-size="8.2" class="g" text-anchor="middle" stroke="#111" stroke-width="0.15" textLength="6.6" lengthAdjust="spacingAndGlyphs">14</text>
<line x1="298.3" y1="202.7" x2="321.7" y2="202.7" stroke="#444" stroke-width="0.9" />
<text x="310.0" y="210.8" font-size="8.4" class="b" text-anchor="middle" textLength="12.0" lengthAdjust="spacingAndGlyphs" fill="#000" stroke="#000" stroke-width="0.25">11.9</text>
<circle cx="351.4" cy="295.2" r="6" fill="#fff" stroke="#8a8a8a" stroke-width="0.6"/>
<text x="351.4" y="298.1" font-size="8.2" class="g" text-anchor="middle" stroke="#111" stroke-width="0.15" textLength="3.6" lengthAdjust="spacingAndGlyphs">2</text>
<line x1="339.7" y1="304.0" x2="363.1" y2="304.0" stroke="#444" stroke-width="0.9" />
<text x="351.4" y="312.1" font-size="8.4" class="b" text-anchor="middle" textLength="15.000000000000002" lengthAdjust="spacingAndGlyphs" fill="#000" stroke="#000" stroke-width="0.25">36.9</text>
<circle cx="475.5" cy="240.5" r="6" fill="#fff" stroke="#8a8a8a" stroke-width="0.6"/>
<text x="475.5" y="243.4" font-size="8.2" class="g" text-anchor="middle" stroke="#111" stroke-width="0.15" textLength="3.6" lengthAdjust="spacingAndGlyphs">7</text>
<line x1="463.8" y1="249.3" x2="487.2" y2="249.3" stroke="#444" stroke-width="0.9" />
<text x="476.5" y="257.4" font-size="8.4" class="b" text-anchor="middle" textLength="13.5" lengthAdjust="spacingAndGlyphs" fill="#000" stroke="#000" stroke-width="0.25">18.6</text>
<circle cx="246.6" cy="305.4" r="6" fill="#fff" stroke="#8a8a8a" stroke-width="0.6"/>
<text x="246.6" y="308.3" font-size="8.2" class="g" text-anchor="middle" stroke="#111" stroke-width="0.15" textLength="6.6" lengthAdjust="spacingAndGlyphs">12</text>
<line x1="234.9" y1="313.7" x2="258.3" y2="313.7" stroke="#444" stroke-width="0.9" />
<text x="246.6" y="321.8" font-size="8.4" class="b" text-anchor="middle" textLength="10.600000000000001" lengthAdjust="spacingAndGlyphs" fill="#000" stroke="#000" stroke-width="0.25">8.5</text>
<circle cx="195.9" cy="352.9" r="6" fill="#fff" stroke="#8a8a8a" stroke-width="0.6"/>
<text x="195.9" y="355.8" font-size="8.2" class="g" text-anchor="middle" stroke="#111" stroke-width="0.15" textLength="6.6" lengthAdjust="spacingAndGlyphs">10</text>
<line x1="184.2" y1="361.3" x2="207.6" y2="361.3" stroke="#444" stroke-width="0.9" />
<text x="195.9" y="369.4" font-size="8.4" class="b" text-anchor="middle" textLength="10.600000000000001" lengthAdjust="spacingAndGlyphs" fill="#000" stroke="#000" stroke-width="0.25">4.3</text>
<circle cx="249.8" cy="361.8" r="6" fill="#fff" stroke="#8a8a8a" stroke-width="0.6"/>
<text x="249.8" y="364.7" font-size="8.2" class="g" text-anchor="middle" stroke="#111" stroke-width="0.15" textLength="3.6" lengthAdjust="spacingAndGlyphs">8</text>
<line x1="238.1" y1="370.6" x2="261.5" y2="370.6" stroke="#444" stroke-width="0.9" />
<text x="251.9" y="378.7" font-size="8.4" class="b" text-anchor="middle" textLength="10.600000000000001" lengthAdjust="spacingAndGlyphs" fill="#000" stroke="#000" stroke-width="0.25">4.4</text>
<circle cx="219.4" cy="426.8" r="6" fill="#fff" stroke="#8a8a8a" stroke-width="0.6"/>
<text x="219.4" y="429.7" font-size="8.2" class="g" text-anchor="middle" stroke="#111" stroke-width="0.15" textLength="3.6" lengthAdjust="spacingAndGlyphs">5</text>
<line x1="207.7" y1="435.2" x2="231.1" y2="435.2" stroke="#444" stroke-width="0.9" />
<text x="219.4" y="443.3" font-size="8.4" class="b" text-anchor="middle" textLength="13.5" lengthAdjust="spacingAndGlyphs" fill="#000" stroke="#000" stroke-width="0.25">12.5</text>
<circle cx="310.2" cy="426.8" r="6" fill="#fff" stroke="#8a8a8a" stroke-width="0.6"/>
<text x="310.2" y="429.7" font-size="8.2" class="g" text-anchor="middle" stroke="#111" stroke-width="0.15" textLength="3.6" lengthAdjust="spacingAndGlyphs">1</text>
<line x1="298.5" y1="435.1" x2="321.9" y2="435.1" stroke="#444" stroke-width="0.9" />
<text x="310.2" y="443.2" font-size="8.4" class="b" text-anchor="middle" textLength="10.600000000000001" lengthAdjust="spacingAndGlyphs" fill="#000" stroke="#000" stroke-width="0.25">9.0</text>
<circle cx="384.3" cy="426.8" r="6" fill="#fff" stroke="#8a8a8a" stroke-width="0.6"/>
<text x="384.3" y="429.7" font-size="8.2" class="g" text-anchor="middle" stroke="#111" stroke-width="0.15" textLength="3.6" lengthAdjust="spacingAndGlyphs">4</text>
<line x1="372.6" y1="435.5" x2="396.0" y2="435.5" stroke="#444" stroke-width="0.9" />
<text x="384.3" y="443.6" font-size="8.4" class="b" text-anchor="middle" textLength="12.0" lengthAdjust="spacingAndGlyphs" fill="#000" stroke="#000" stroke-width="0.25">11.9</text>
<circle cx="474.3" cy="426.8" r="6" fill="#fff" stroke="#8a8a8a" stroke-width="0.6"/>
<text x="474.3" y="429.7" font-size="8.2" class="g" text-anchor="middle" stroke="#111" stroke-width="0.15" textLength="3.6" lengthAdjust="spacingAndGlyphs">6</text>
<line x1="462.6" y1="435.1" x2="486.0" y2="435.1" stroke="#444" stroke-width="0.9" />
<text x="474.3" y="443.2" font-size="8.4" class="b" text-anchor="middle" textLength="13.5" lengthAdjust="spacingAndGlyphs" fill="#000" stroke="#000" stroke-width="0.25">16.8</text>
<circle cx="442.0" cy="323.8" r="6" fill="#fff" stroke="#8a8a8a" stroke-width="0.6"/>
<text x="442.0" y="326.7" font-size="8.2" class="g" text-anchor="middle" stroke="#111" stroke-width="0.15" textLength="3.6" lengthAdjust="spacingAndGlyphs">9</text>
<line x1="430.3" y1="332.3" x2="453.7" y2="332.3" stroke="#444" stroke-width="0.9" />
<text x="444.0" y="340.4" font-size="8.4" class="b" text-anchor="middle" textLength="10.600000000000001" lengthAdjust="spacingAndGlyphs" fill="#000" stroke="#000" stroke-width="0.25">4.2</text>
<circle cx="485.2" cy="323.8" r="6" fill="#fff" stroke="#8a8a8a" stroke-width="0.6"/>
<text x="485.2" y="326.7" font-size="8.2" class="g" text-anchor="middle" stroke="#111" stroke-width="0.15" textLength="6.6" lengthAdjust="spacingAndGlyphs">11</text>
<line x1="473.5" y1="331.5" x2="496.9" y2="331.5" stroke="#444" stroke-width="0.9" />
<text x="487.3" y="339.6" font-size="8.4" class="b" text-anchor="middle" textLength="10.600000000000001" lengthAdjust="spacingAndGlyphs" fill="#000" stroke="#000" stroke-width="0.25">6.5</text>
<circle cx="309.1" cy="462.7" r="6" fill="#fff" stroke="#8a8a8a" stroke-width="0.6"/>
<text x="309.1" y="465.6" font-size="8.2" class="g" text-anchor="middle" stroke="#111" stroke-width="0.15" textLength="6.6" lengthAdjust="spacingAndGlyphs">13</text>
<line x1="297.4" y1="471.1" x2="320.8" y2="471.1" stroke="#444" stroke-width="0.9" />
<text x="310.3" y="479.2" font-size="8.4" class="b" text-anchor="middle" textLength="10.600000000000001" lengthAdjust="spacingAndGlyphs" fill="#000" stroke="#000" stroke-width="0.25">6.6</text>
<rect x="723.5" y="108.0" width="149.9" height="268.1" fill="none" stroke="#7c7c7c" stroke-width="0.9"/>
<line x1="761.3" y1="108.0" x2="761.3" y2="376.1" stroke="#7c7c7c" stroke-width="0.9" />
<line x1="836.5" y1="108.0" x2="836.5" y2="376.1" stroke="#7c7c7c" stroke-width="0.9" />
<line x1="723.5" y1="150.8" x2="873.4" y2="150.8" stroke="#7c7c7c" stroke-width="0.9" />
<line x1="723.5" y1="168.2" x2="873.4" y2="168.2" stroke="#7c7c7c" stroke-width="0.9" />
<line x1="723.5" y1="184.1" x2="873.4" y2="184.1" stroke="#7c7c7c" stroke-width="0.9" />
<line x1="723.5" y1="200.3" x2="873.4" y2="200.3" stroke="#7c7c7c" stroke-width="0.9" />
<line x1="723.5" y1="216.2" x2="873.4" y2="216.2" stroke="#7c7c7c" stroke-width="0.9" />
<line x1="723.5" y1="232.3" x2="873.4" y2="232.3" stroke="#7c7c7c" stroke-width="0.9" />
<line x1="723.5" y1="248.4" x2="873.4" y2="248.4" stroke="#7c7c7c" stroke-width="0.9" />
<line x1="723.5" y1="264.4" x2="873.4" y2="264.4" stroke="#7c7c7c" stroke-width="0.9" />
<line x1="723.5" y1="280.5" x2="873.4" y2="280.5" stroke="#7c7c7c" stroke-width="0.9" />
<line x1="723.5" y1="296.4" x2="873.4" y2="296.4" stroke="#7c7c7c" stroke-width="0.9" />
<line x1="723.5" y1="312.3" x2="873.4" y2="312.3" stroke="#7c7c7c" stroke-width="0.9" />
<line x1="723.5" y1="328.3" x2="873.4" y2="328.3" stroke="#7c7c7c" stroke-width="0.9" />
<line x1="723.5" y1="344.4" x2="873.4" y2="344.4" stroke="#7c7c7c" stroke-width="0.9" />
<line x1="723.5" y1="359.9" x2="873.4" y2="359.9" stroke="#7c7c7c" stroke-width="0.9" />
<text x="737.8" y="101.5" font-size="10.6" class="b" text-anchor="start" textLength="119.6" lengthAdjust="spacing" fill="#000" stroke="#000" stroke-width="0.5">ЕКСПЛІКАЦІЯ ПРИМІЩЕНЬ</text>
<text x="742.0" y="124.3" font-size="6.5" class="b" text-anchor="middle" stroke="#000" stroke-width="0.12" fill="#000">Номер</text>
<text x="742.0" y="135.5" font-size="6.5" class="b" text-anchor="middle" stroke="#000" stroke-width="0.12" fill="#000">по плану</text>
<text x="763.6" y="130.6" font-size="6.8" class="g" text-anchor="start" textLength="69.6" lengthAdjust="spacingAndGlyphs" fill="#000" stroke="#000" stroke-width="0.18">НАЗВА ПРИМІЩЕННЯ</text>
<text x="853.3" y="125.4" font-size="7" class="g" text-anchor="middle" fill="#000" stroke="#000" stroke-width="0.18">ПЛОЩА</text>
<text x="853.3" y="137.6" font-size="6.3" class="b" text-anchor="middle">кв.м</text>
<text x="739.8" y="162.4" font-size="7.2" class="b" text-anchor="middle" stroke="#000" stroke-width="0.15" fill="#000">1</text>
<text x="766.8" y="162.3" font-size="6.9" class="b" text-anchor="start" stroke="#000" stroke-width="0.15" fill="#000">Тамбур</text>
<text x="853.8" y="162.7" font-size="7.8" class="b" text-anchor="middle" textLength="8.5" lengthAdjust="spacingAndGlyphs" fill="#000" stroke="#000" stroke-width="0.55">9.0</text>
<text x="739.8" y="179.0" font-size="7.2" class="b" text-anchor="middle" stroke="#000" stroke-width="0.15" fill="#000">2</text>
<text x="766.8" y="178.9" font-size="6.9" class="b" text-anchor="start" stroke="#000" stroke-width="0.15" fill="#000">Вітальня</text>
<text x="853.8" y="179.3" font-size="7.8" class="b" text-anchor="middle" textLength="12" lengthAdjust="spacingAndGlyphs" fill="#000" stroke="#000" stroke-width="0.55">36.9</text>
<text x="739.8" y="195.1" font-size="7.2" class="b" text-anchor="middle" stroke="#000" stroke-width="0.15" fill="#000">3</text>
<text x="766.8" y="195.0" font-size="6.9" class="b" text-anchor="start" stroke="#000" stroke-width="0.15" fill="#000">Кухня-Їдальня</text>
<text x="853.8" y="194.8" font-size="7.4" class="g" text-anchor="middle" textLength="11" lengthAdjust="spacingAndGlyphs" fill="#000" stroke="#000" stroke-width="0.3">16.0</text>
<text x="739.8" y="211.2" font-size="7.2" class="b" text-anchor="middle" stroke="#000" stroke-width="0.15" fill="#000">4</text>
<text x="766.8" y="211.1" font-size="6.9" class="b" text-anchor="start" stroke="#000" stroke-width="0.15" fill="#000">Кабінет</text>
<text x="853.8" y="210.8" font-size="7.4" class="g" text-anchor="middle" textLength="11" lengthAdjust="spacingAndGlyphs" fill="#000" stroke="#000" stroke-width="0.3">11.9</text>
<text x="739.8" y="227.2" font-size="7.2" class="b" text-anchor="middle" stroke="#000" stroke-width="0.15" fill="#000">5</text>
<text x="766.8" y="227.1" font-size="6.9" class="b" text-anchor="start" stroke="#000" stroke-width="0.15" fill="#000">Житлова кімната</text>
<text x="853.8" y="226.8" font-size="7.4" class="g" text-anchor="middle" textLength="11" lengthAdjust="spacingAndGlyphs" fill="#000" stroke="#000" stroke-width="0.3">12.5</text>
<text x="739.8" y="243.3" font-size="7.2" class="b" text-anchor="middle" stroke="#000" stroke-width="0.15" fill="#000">6</text>
<text x="766.8" y="243.2" font-size="6.9" class="b" text-anchor="start" stroke="#000" stroke-width="0.15" fill="#000">Житлова кімната</text>
<text x="853.8" y="243.0" font-size="7.4" class="g" text-anchor="middle" textLength="11" lengthAdjust="spacingAndGlyphs" fill="#000" stroke="#000" stroke-width="0.3">16.8</text>
<text x="739.8" y="259.3" font-size="7.2" class="b" text-anchor="middle" stroke="#000" stroke-width="0.15" fill="#000">7</text>
<text x="766.8" y="259.2" font-size="6.9" class="b" text-anchor="start" stroke="#000" stroke-width="0.15" fill="#000">Житлова кімната</text>
<text x="853.8" y="259.0" font-size="7.4" class="g" text-anchor="middle" textLength="11" lengthAdjust="spacingAndGlyphs" fill="#000" stroke="#000" stroke-width="0.3">18.6</text>
<text x="739.8" y="275.3" font-size="7.2" class="b" text-anchor="middle" stroke="#000" stroke-width="0.15" fill="#000">8</text>
<text x="766.8" y="275.2" font-size="6.9" class="b" text-anchor="start" stroke="#000" stroke-width="0.15" fill="#000">Шлюз</text>
<text x="853.8" y="275.0" font-size="7.4" class="g" text-anchor="middle" textLength="8.6" lengthAdjust="spacingAndGlyphs" fill="#000" stroke="#000" stroke-width="0.3">4.4</text>
<text x="739.8" y="291.3" font-size="7.2" class="b" text-anchor="middle" stroke="#000" stroke-width="0.15" fill="#000">9</text>
<text x="766.8" y="291.2" font-size="6.9" class="b" text-anchor="start" stroke="#000" stroke-width="0.15" fill="#000">Шлюз</text>
<text x="853.8" y="291.0" font-size="7.4" class="g" text-anchor="middle" textLength="8.6" lengthAdjust="spacingAndGlyphs" fill="#000" stroke="#000" stroke-width="0.3">4.2</text>
<text x="739.8" y="307.2" font-size="7.2" class="b" text-anchor="middle" stroke="#000" stroke-width="0.15" fill="#000">10</text>
<text x="766.8" y="307.1" font-size="6.9" class="b" text-anchor="start" stroke="#000" stroke-width="0.15" fill="#000">Душова</text>
<text x="853.8" y="306.9" font-size="7.4" class="g" text-anchor="middle" textLength="8.6" lengthAdjust="spacingAndGlyphs" fill="#000" stroke="#000" stroke-width="0.3">4.3</text>
<text x="739.8" y="323.2" font-size="7.2" class="b" text-anchor="middle" stroke="#000" stroke-width="0.15" fill="#000">11</text>
<text x="766.8" y="323.1" font-size="6.9" class="b" text-anchor="start" stroke="#000" stroke-width="0.15" fill="#000">Ванна кімната</text>
<text x="853.8" y="322.9" font-size="7.4" class="g" text-anchor="middle" textLength="8.6" lengthAdjust="spacingAndGlyphs" fill="#000" stroke="#000" stroke-width="0.3">6.5</text>
<text x="739.8" y="339.2" font-size="7.2" class="b" text-anchor="middle" stroke="#000" stroke-width="0.15" fill="#000">12</text>
<text x="766.8" y="339.1" font-size="6.9" class="b" text-anchor="start" stroke="#000" stroke-width="0.15" fill="#000">Топкова</text>
<text x="853.8" y="338.9" font-size="7.4" class="g" text-anchor="middle" textLength="8.6" lengthAdjust="spacingAndGlyphs" fill="#000" stroke="#000" stroke-width="0.3">8.5</text>
<text x="766.8" y="354.9" font-size="6.9" class="b" text-anchor="start" stroke="#000" stroke-width="0.15" fill="#000">Загальна площа</text>
<text x="847.8" y="354.8" font-size="7.2" class="b" text-anchor="start" stroke="#000" stroke-width="0.15" fill="#000">149.6</text>
<text x="766.8" y="370.8" font-size="6.9" class="b" text-anchor="start" stroke="#000" stroke-width="0.15" fill="#000">Площа терас</text>
<text x="847.8" y="370.7" font-size="7.2" class="b" text-anchor="start" stroke="#000" stroke-width="0.15" fill="#000">18.5</text>
</svg></body></html>
